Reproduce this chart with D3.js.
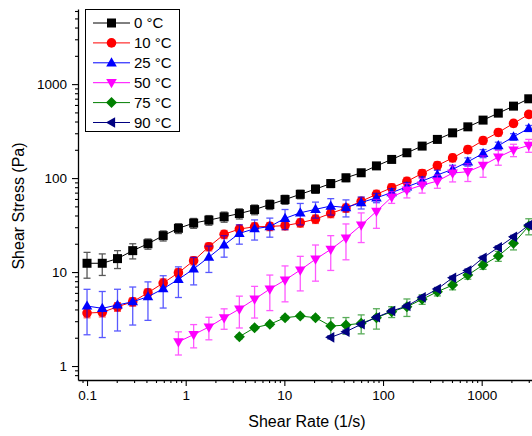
<!DOCTYPE html>
<html>
<head>
<meta charset="utf-8">
<script src="https://cdn.jsdelivr.net/npm/d3@7"></script>
<style>
  body { margin: 0; background: #fff; }
  svg { font-family: "Liberation Sans", Arial, sans-serif; }
</style>
</head>
<body>
<div class="graph"></div>
<script>
// shear rates measured (1/s)
var rates = [0.1, 0.1427, 0.2036, 0.2905, 0.4145, 0.5914, 0.8439, 1.204, 1.718, 2.452,
             3.499, 4.992, 7.124, 10.16, 14.50, 20.69, 29.52, 42.12, 60.10, 85.76,
             122.4, 174.6, 249.2, 355.5, 507.3, 723.9, 1033, 1474, 2102, 3000];

var labels = ["0 °C", "10 °C", "25 °C", "50 °C", "75 °C", "90 °C"];
var colors = ["#000000", "#ff0000", "#0000ff", "#ff00ff", "#008000", "#000080"];
var starts = [0, 0, 0, 6, 10, 16];

var stress0 = [12.4, 12.4, 13.9, 16.9, 20.0, 24.4, 29.2, 33.2, 35.7, 38.7, 41.9, 46.2, 52.3, 59.1, 67.2,
               76.4, 87.4, 100.7, 113.9, 134.8, 158, 186, 219, 258, 303, 351, 414, 491, 583, 698];
var err0 = [3.8, 3.2, 3.0, 3.1, 2.5, 3.0, 3.5, 4.0, 4.2, 4.8, 5.2, 5.5, 6.0, 6.5, 7.0,
            7.5, 8.0, 9.0, 9.0, 10, 10, 11, 12, 13, 14, 15, 17, 20, 22, 25];

var stress10 = [3.66, 3.73, 4.27, 4.83, 6.02, 7.64, 9.83, 13.2, 18.6, 25.2, 28.7, 30.3, 30.6, 31.2, 33.4,
                36.6, 42.1, 48.0, 56.6, 67.2, 78.9, 92.2, 112, 136, 164, 201, 251, 306, 382, 476];
var err10 = [0.4, 0.4, 0.45, 0.5, 0.6, 0.8, 1.0, 1.3, 1.8, 2.5, 2.9, 3.0, 3.0, 3.1, 3.3,
             3.7, 4.2, 4.8, 5.7, 6.7, 7.9, 9.2, 11, 13, 15, 18, 22, 26, 30, 35];

var stress25 = [4.35, 4.11, 4.46, 4.83, 5.46, 6.64, 8.36, 10.8, 14.4, 19.4, 25.8, 28.9, 30.5, 37.3, 42.7,
                46.5, 50.4, 48.6, 54.9, 61.7, 70.1, 80.8, 92.9, 108, 124, 149, 183, 221, 275, 338];
var err25 = [2.2, 2.1, 2.1, 2.1, 2.4, 2.5, 3.0, 3.5, 4.5, 5.0, 6.0, 7.0, 7.0, 9.0, 11,
             9.0, 10, 10, 8.0, 7.0, 7.0, 9.0, 10, 13, 13, 15, 18, 20, 22, 25];

var stress50 = [1.81, 2.16, 2.60, 3.26, 4.04, 5.14, 6.59, 8.22, 10.5, 13.7, 17.4, 23.0,
                31.6, 44.2, 62.8, 74.5, 84.2, 92.9, 113, 117, 137, 167, 199, 223];
var err50 = [0.5, 0.6, 0.7, 0.8, 1.5, 1.9, 2.7, 3.4, 4.2, 5.7, 7.0, 9.5,
             11, 15, 9, 13, 15, 15, 22, 25, 35, 30, 30, 35];

var stress75 = [2.05, 2.56, 2.78, 3.27, 3.40, 3.27, 2.66, 2.73, 2.85, 3.27,
                3.78, 4.27, 5.13, 6.17, 7.27, 9.29, 11.9, 14.8, 20.2, 30.9];
var err75 = [0.1, 0.12, 0.12, 0.15, 0.15, 0.15, 0.6, 0.55, 0.65, 0.8,
             0.5, 0.9, 0.6, 0.6, 0.8, 0.9, 1.2, 1.8, 3.0, 6.0];

var stress90 = [2.02, 2.32, 2.78, 3.30, 3.85, 4.35, 5.38, 6.59, 8.70, 10.4, 14.2, 18.3, 23.7, 31.6];
var err90 = [0.08, 0.1, 0.12, 0.14, 0.16, 0.18, 0.22, 0.27, 0.35, 0.4, 0.55, 0.7, 0.9, 1.2];

var xTicks = [0.1, 1, 10, 100, 1000];
var yTicks = [1, 10, 100, 1000];

var stresses = [stress0, stress10, stress25, stress50, stress75, stress90];
var errors = [err0, err10, err25, err50, err75, err90];

// marker outlines, centred on 0,0
var shapes = [
  "M-4.5,-4.5h9v9h-9Z",
  "M-4.8,0a4.8,4.8 0 1,0 9.6,0a4.8,4.8 0 1,0 -9.6,0Z",
  "M0,-5.6L5.3,3.6L-5.3,3.6Z",
  "M0,5.6L5.3,-3.6L-5.3,-3.6Z",
  "M0,-5.5L5.5,0L0,5.5L-5.5,0Z",
  "M-5.6,0L3.6,-5.3L3.6,5.3Z"
];

var w = 532;
var h = 436;

var svg = d3.select(".graph").append("svg")
            .attr("width", w)
            .attr("height", h);

var x = d3.scaleLog().domain([0.081, 3900]).range([78, 540]);
var y = d3.scaleLog().domain([0.71, 6300]).range([380, 9]);

function minorTicks(scale) {
  var d = scale.domain();
  var out = [];
  for (var p = -2; p <= 4; p++) {
    for (var m = 1; m <= 9; m++) {
      var v = m * Math.pow(10, p);
      if (v >= d[0] && v <= d[1] && xTicks.indexOf(v) < 0 && yTicks.indexOf(v) < 0) out.push(v);
    }
  }
  return out;
}

// x axis
svg.append("g")
   .attr("transform", "translate(0,380)")
   .call(d3.axisBottom(x).tickValues(minorTicks(x)).tickSize(3).tickFormat(""))
   .call(g => g.select(".domain").remove());
var gx = svg.append("g")
   .attr("transform", "translate(0,380)")
   .call(d3.axisBottom(x).tickValues(xTicks).tickSize(6).tickSizeOuter(0).tickPadding(4)
         .tickFormat(d => String(d)));
gx.selectAll("text").attr("font-size", "13.5px").attr("fill", "#000").attr("font-family", null);

// y axis
svg.append("g")
   .attr("transform", "translate(78,0)")
   .call(d3.axisLeft(y).tickValues(minorTicks(y)).tickSize(3).tickFormat(""))
   .call(g => g.select(".domain").remove());
var gy = svg.append("g")
   .attr("transform", "translate(78,0)")
   .call(d3.axisLeft(y).tickValues(yTicks).tickSize(6).tickSizeOuter(0).tickPadding(5)
         .tickFormat(d => String(d)));
gy.selectAll("text").attr("font-size", "13.5px").attr("fill", "#000").attr("font-family", null);

svg.selectAll(".domain").attr("stroke-width", 1.3);
svg.selectAll(".tick line").attr("stroke-width", 1.1);

svg.append("text")
   .attr("x", 307)
   .attr("y", 427)
   .attr("text-anchor", "middle")
   .attr("font-size", "16px")
   .text("Shear Rate (1/s)");

svg.append("text")
   .attr("transform", "translate(24,206) rotate(-90)")
   .attr("text-anchor", "middle")
   .attr("font-size", "16px")
   .text("Shear Stress (Pa)");

// series
var line = d3.line().x(d => x(d.rate)).y(d => y(d.v));

stresses.forEach(function(vals, i) {
  var pts = vals.map(function(v, j) {
    return { rate: rates[starts[i] + j], v: v, e: errors[i][j] };
  });
  var g = svg.append("g");

  var eb = g.append("g").attr("stroke", colors[i]).attr("stroke-width", 1.3).attr("opacity", 0.65);
  pts.forEach(function(p) {
    var px = x(p.rate);
    var lo = y(Math.max(p.v - p.e, 0.72));
    var hi = y(p.v + p.e);
    eb.append("line").attr("x1", px).attr("x2", px).attr("y1", lo).attr("y2", hi);
    eb.append("line").attr("x1", px - 3.5).attr("x2", px + 3.5).attr("y1", lo).attr("y2", lo);
    eb.append("line").attr("x1", px - 3.5).attr("x2", px + 3.5).attr("y1", hi).attr("y2", hi);
  });

  g.append("path")
   .datum(pts)
   .attr("d", line)
   .attr("fill", "none")
   .attr("stroke", colors[i])
   .attr("stroke-width", 1);

  g.selectAll(".mark")
   .data(pts)
   .enter()
     .append("path")
     .attr("d", shapes[i])
     .attr("transform", d => "translate(" + x(d.rate) + "," + y(d.v) + ")")
     .attr("fill", colors[i]);
});

// legend
var lg = svg.append("g");
lg.append("rect")
  .attr("x", 85.5).attr("y", 9.5)
  .attr("width", 94).attr("height", 122)
  .attr("fill", "#fff")
  .attr("stroke", "#000")
  .attr("stroke-width", 1);
labels.forEach(function(lab, i) {
  var ly = 23 + i * 19.9;
  lg.append("line")
    .attr("x1", 93).attr("x2", 130)
    .attr("y1", ly).attr("y2", ly)
    .attr("stroke", colors[i]);
  lg.append("path")
    .attr("d", shapes[i])
    .attr("transform", "translate(111.5," + ly + ")")
    .attr("fill", colors[i]);
  lg.append("text")
    .attr("x", 134)
    .attr("y", ly + 5.3)
    .attr("font-size", "15px")
    .text(lab);
});
</script>
</body>
</html>
